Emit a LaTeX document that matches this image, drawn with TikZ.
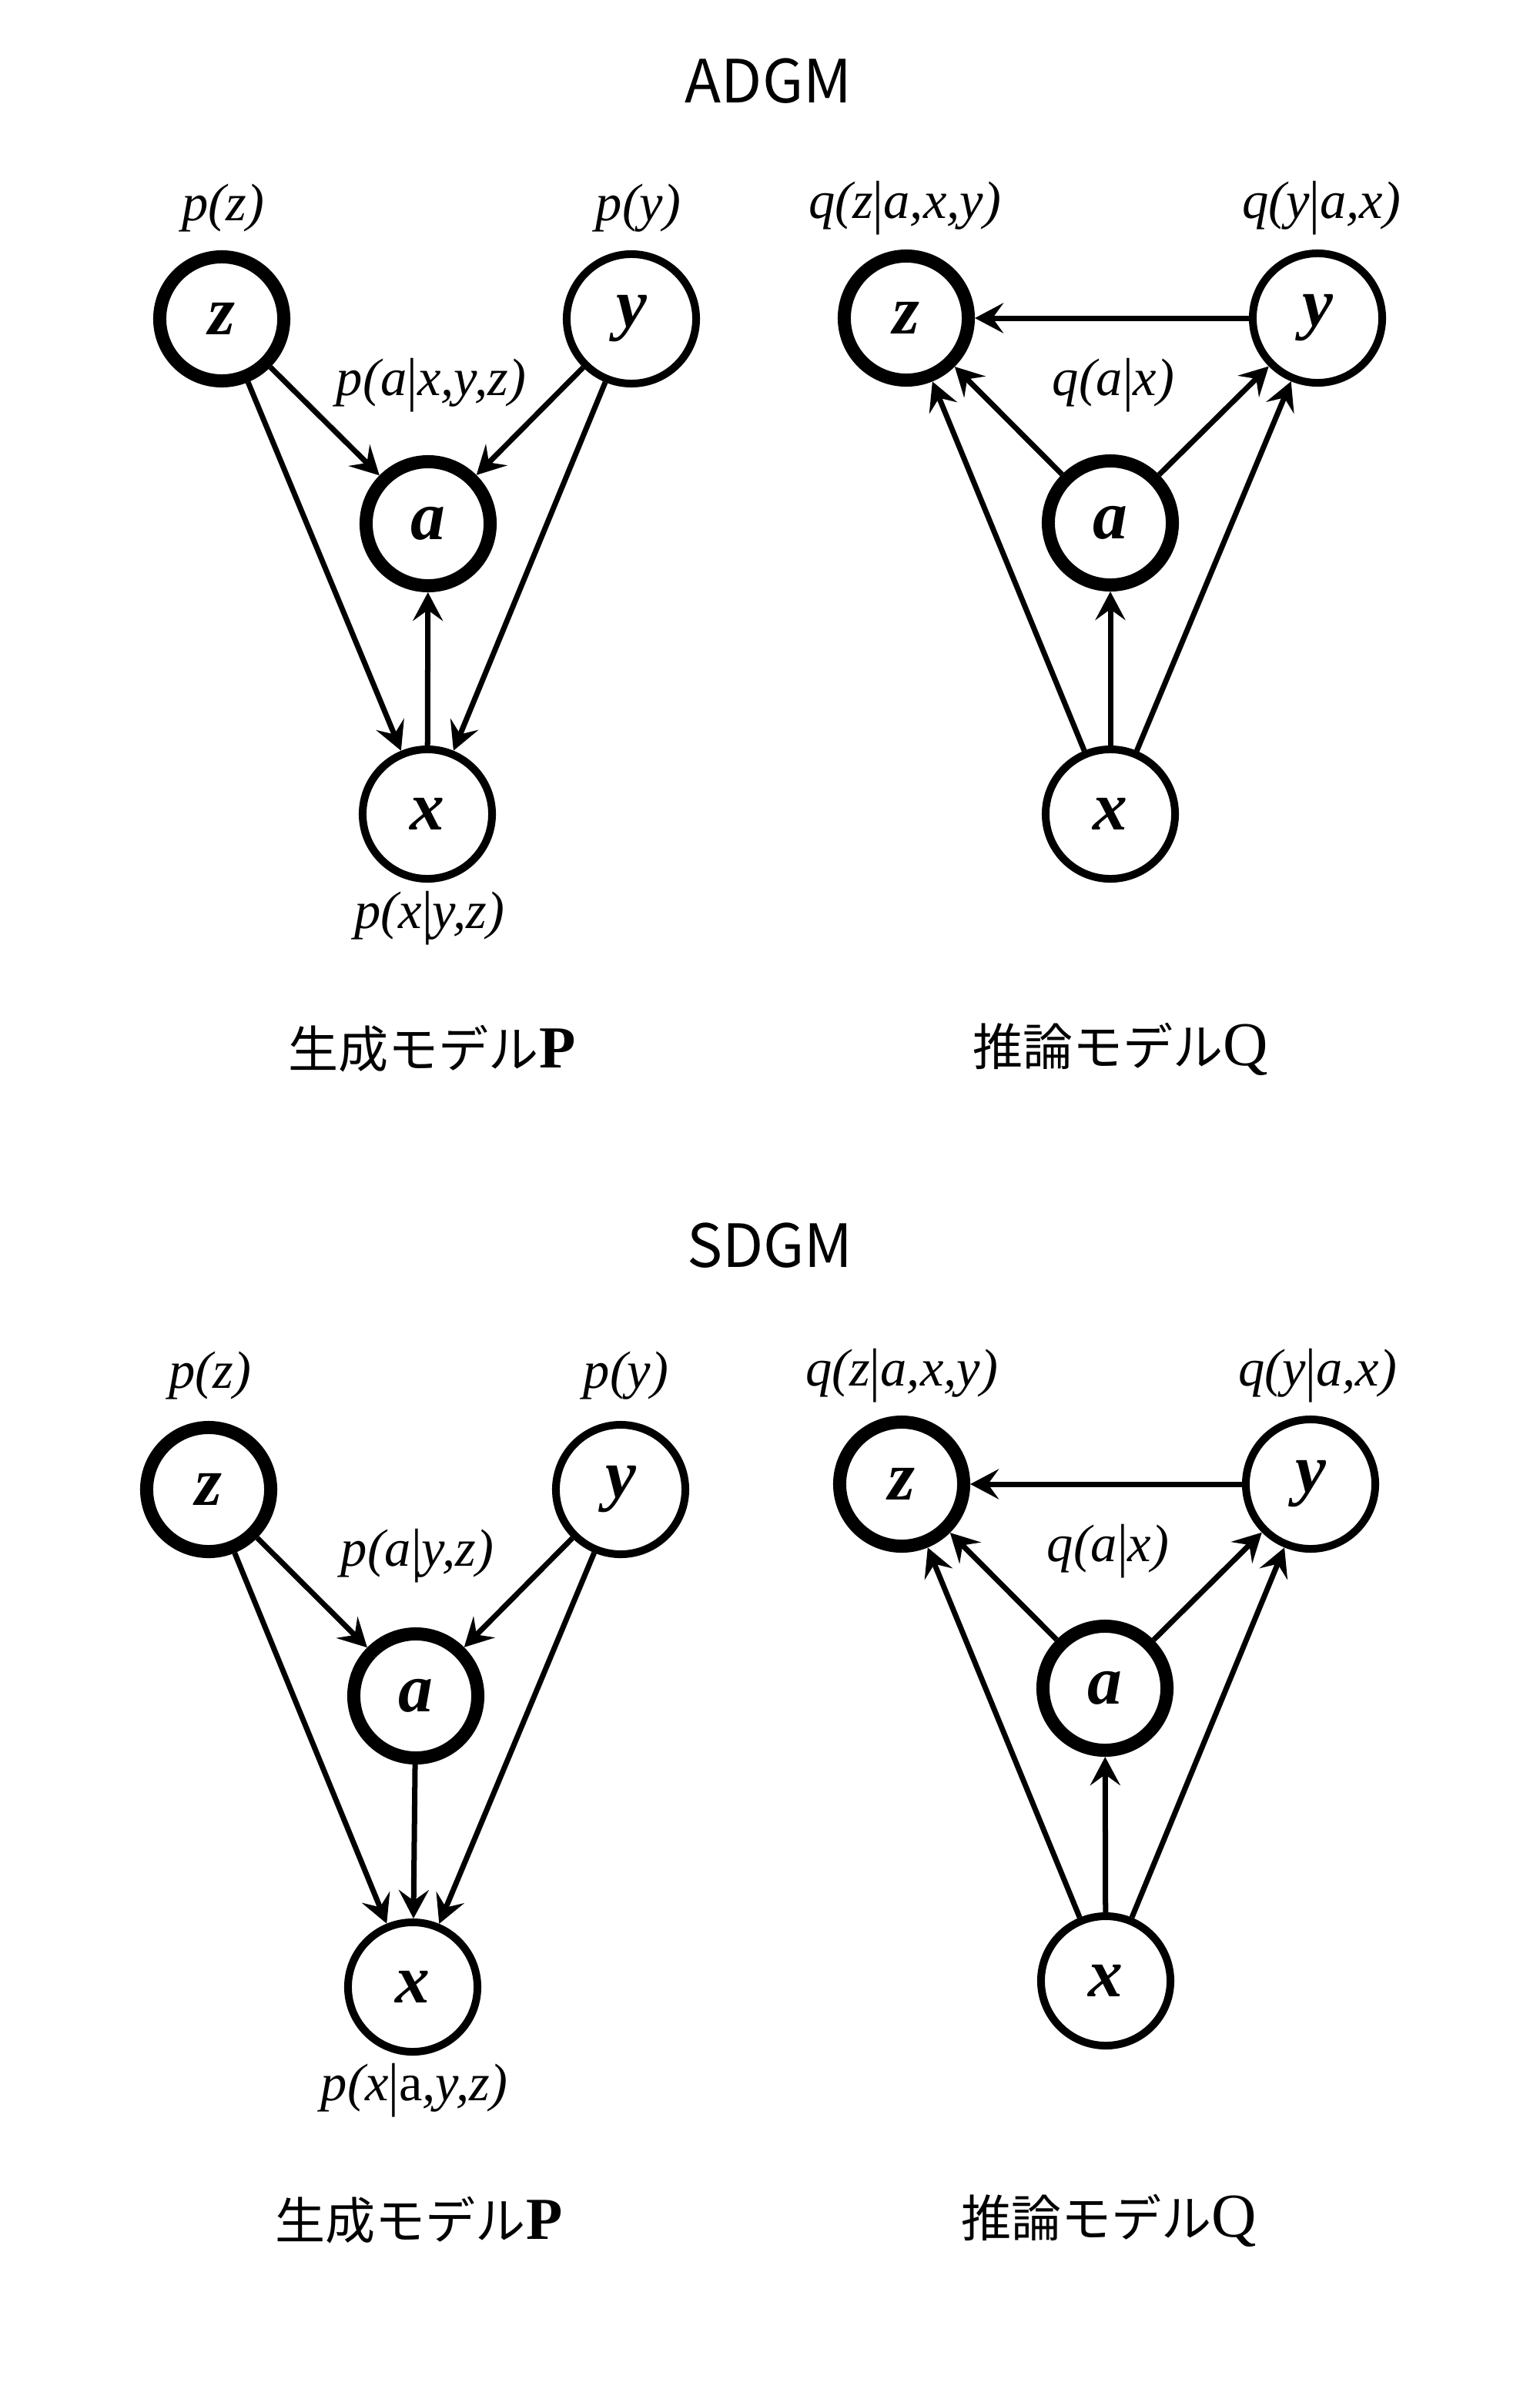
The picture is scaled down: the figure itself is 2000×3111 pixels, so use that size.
\documentclass[tikz,border=0pt]{standalone}
\usepackage{fontspec}
\usepackage{graphicx}
\setmainfont{Liberation Serif}
\newfontfamily\cjkfont{Noto Sans CJK JP}
\newfontfamily\latinserif{Liberation Serif}
\usetikzlibrary{arrows.meta}
\newcommand{\gbar}{{\upshape\raisebox{-0.07em}{\scalebox{1}[1.12]{|}}}}
\begin{document}
\begin{tikzpicture}[x=0.01cm,y=-0.01cm,
  vnode/.style={circle,draw,line width=0.1cm,minimum size=1.68cm,inner sep=0pt,
    font=\fontsize{25.5}{30}\selectfont\bfseries\itshape},
  vthick/.style={vnode,line width=0.17cm,minimum size=1.61cm},
  arr/.style={line width=0.07cm,-{Stealth[length=0.37cm,width=0.39cm,inset=0.14cm]}},
  lbl/.style={font=\fontsize{19.5}{23}\selectfont\itshape,inner sep=0pt},
  capt/.style={font=\fontsize{18.5}{22}\selectfont,inner sep=0pt},
  ttl/.style={font=\fontsize{22}{26}\selectfont\cjkfont,inner sep=0pt}]
\useasboundingbox[fill=white] (0,0) rectangle (2000,3111);

% titles
\node[ttl] (t1) at (998,105) {ADGM};
\node[ttl] (t2) at (1000,1617) {SDGM};

% ---------- ADGM P ----------
\node[vthick] (z1) at (288,414) {z};
\node[vnode]  (y1) at (820,414) {y};
\node[vthick] (a1) at (556,680) {a};
\node[vnode]  (x1) at (555,1057) {x};
\draw[arr] (z1) -- (a1);
\draw[arr] (y1) -- (a1);
\draw[arr] (z1) -- (x1);
\draw[arr] (y1) -- (x1);
\draw[arr] (x1) -- (a1);
\node[lbl] (l1) at (290,270) {p(z)};
\node[lbl] (l2) at (829,270) {p(y)};
\node[lbl] (l3) at (560,500) {p(a\gbar x,y,z)};
\node[lbl] (l4) at (558,1192) {p(x\gbar y,z)};
\node[capt] (c1) at (561,1362) {{\cjkfont 生成モデル}{\latinserif\bfseries\fontsize{22}{26}\selectfont P}};

% ---------- ADGM Q ----------
\node[vthick] (z2) at (1177,413) {z};
\node[vnode]  (y2) at (1711,413) {y};
\node[vthick] (a2) at (1442,679) {a};
\node[vnode]  (x2) at (1442,1057) {x};
\draw[arr] (y2) -- (z2);
\draw[arr] (a2) -- (z2);
\draw[arr] (a2) -- (y2);
\draw[arr] (x2) -- (a2);
\draw[arr] (x2) -- (z2);
\draw[arr] (x2) -- (y2);
\node[lbl] (l5) at (1175,270) {q(z\gbar a,x,y)};
\node[lbl] (l6) at (1716,270) {q(y\gbar a,x)};
\node[lbl] (l7) at (1446,500) {q(a\gbar x)};
\node[capt] (c2) at (1455,1362) {{\cjkfont 推論モデル}{\latinserif\fontsize{23}{27}\selectfont Q}};

% ---------- SDGM P ----------
\node[vthick] (z3) at (271,1934) {z};
\node[vnode]  (y3) at (806,1934) {y};
\node[vthick] (a3) at (540,2202) {a};
\node[vnode]  (x3) at (536,2580) {x};
\draw[arr] (z3) -- (a3);
\draw[arr] (y3) -- (a3);
\draw[arr] (z3) -- (x3);
\draw[arr] (y3) -- (x3);
\draw[arr] (a3) -- (x3);
\node[lbl] (l8) at (273,1786) {p(z)};
\node[lbl] (l9) at (813,1786) {p(y)};
\node[lbl] (l10) at (542,2020) {p(a\gbar y,z)};
\node[lbl] (l11) at (538,2714) {p(x\gbar{\upshape a},y,z)};
\node[capt] (c3) at (544,2883) {{\cjkfont 生成モデル}{\latinserif\bfseries\fontsize{22}{26}\selectfont P}};

% ---------- SDGM Q ----------
\node[vthick] (z4) at (1171,1927) {z};
\node[vnode]  (y4) at (1702,1927) {y};
\node[vthick] (a4) at (1435,2192) {a};
\node[vnode]  (x4) at (1436,2572) {x};
\draw[arr] (y4) -- (z4);
\draw[arr] (a4) -- (z4);
\draw[arr] (a4) -- (y4);
\draw[arr] (x4) -- (a4);
\draw[arr] (x4) -- (z4);
\draw[arr] (x4) -- (y4);
\node[lbl] (l12) at (1171,1786) {q(z\gbar a,x,y)};
\node[lbl] (l13) at (1711,1786) {q(y\gbar a,x)};
\node[lbl] (l14) at (1439,2014) {q(a\gbar x)};
\node[capt] (c4) at (1440,2883) {{\cjkfont 推論モデル}{\latinserif\fontsize{23}{27}\selectfont Q}};
\end{tikzpicture}
\end{document}
